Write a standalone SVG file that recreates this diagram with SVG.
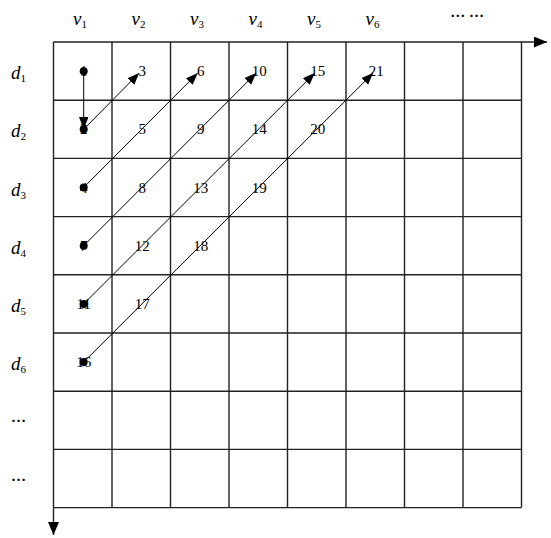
<svg xmlns="http://www.w3.org/2000/svg" width="551" height="538" viewBox="0 0 551 538">
<style>
.grid{stroke:#222;stroke-width:1.4;fill:none}
.conn{stroke:#000;stroke-width:1;fill:none}
.num{font-family:"Liberation Serif",serif;font-size:15px;fill:#000;text-anchor:middle}
.lab{font-family:"Liberation Serif",serif;font-style:italic;font-size:19px;fill:#000}
.sub{font-style:normal;font-size:11px}
.ell{font-family:"Liberation Serif",serif;font-size:15px;font-weight:bold;fill:#000;text-anchor:middle}
.dot{fill:#000}
</style>
<defs>
<marker id="ah" markerUnits="userSpaceOnUse" markerWidth="13" markerHeight="10" refX="12" refY="4.75" orient="auto"><path d="M0,0 L12,4.75 L0,9.5 z" fill="#000"/></marker>
<marker id="axh" markerUnits="userSpaceOnUse" markerWidth="14" markerHeight="12" refX="13" refY="5.5" orient="auto"><path d="M0,0 L13,5.5 L0,11 z" fill="#000"/></marker>
</defs>
<rect width="551" height="538" fill="#fff"/>
<g id="grid" class="grid">
<path d="M112,42V507.6M170.5,42V507.6M229,42V507.6M287.5,42V507.6M346,42V507.6M404.5,42V507.6M463,42V507.6M521.5,42V507.6"/>
<path d="M53.5,100.2H521.5M53.5,158.4H521.5M53.5,216.6H521.5M53.5,274.8H521.5M53.5,333H521.5M53.5,391.2H521.5M53.5,449.4H521.5M53.5,507.6H521.5"/>
</g>
<g id="axes" class="grid">
<path d="M53.5,42H547" marker-end="url(#axh)"/>
<path d="M53.5,42V535" marker-end="url(#axh)"/>
</g>
<g id="col-labels">
<text class="lab" x="73" y="25">v<tspan class="sub" dy="3">1</tspan></text>
<text class="lab" x="131.5" y="25">v<tspan class="sub" dy="3">2</tspan></text>
<text class="lab" x="190" y="25">v<tspan class="sub" dy="3">3</tspan></text>
<text class="lab" x="248.5" y="25">v<tspan class="sub" dy="3">4</tspan></text>
<text class="lab" x="307" y="25">v<tspan class="sub" dy="3">5</tspan></text>
<text class="lab" x="365.5" y="25">v<tspan class="sub" dy="3">6</tspan></text>
<text class="ell" x="467" y="17">… …</text>
</g>
<g id="row-labels">
<text class="lab" x="11" y="79">d<tspan class="sub" dy="3">1</tspan></text>
<text class="lab" x="11" y="137.3">d<tspan class="sub" dy="3">2</tspan></text>
<text class="lab" x="11" y="195.5">d<tspan class="sub" dy="3">3</tspan></text>
<text class="lab" x="11" y="253.7">d<tspan class="sub" dy="3">4</tspan></text>
<text class="lab" x="11" y="311.9">d<tspan class="sub" dy="3">5</tspan></text>
<text class="lab" x="11" y="370.1">d<tspan class="sub" dy="3">6</tspan></text>
<text class="ell" x="18.5" y="422">…</text>
<text class="ell" x="18.5" y="481">…</text>
</g>
<g id="numbers">
<g id="row1"><text class="num" x="83.7" y="76.1">1</text><text class="num" x="142.3" y="76.1">3</text><text class="num" x="200.8" y="76.1">6</text><text class="num" x="259.3" y="76.1">10</text><text class="num" x="317.8" y="76.1">15</text><text class="num" x="376.3" y="76.1">21</text></g>
<g id="row2"><text class="num" x="83.7" y="134.3">2</text><text class="num" x="142.3" y="134.3">5</text><text class="num" x="200.8" y="134.3">9</text><text class="num" x="259.3" y="134.3">14</text><text class="num" x="317.8" y="134.3">20</text></g>
<g id="row3"><text class="num" x="83.7" y="192.5">4</text><text class="num" x="142.3" y="192.5">8</text><text class="num" x="200.8" y="192.5">13</text><text class="num" x="259.3" y="192.5">19</text></g>
<g id="row4"><text class="num" x="83.7" y="250.7">7</text><text class="num" x="142.3" y="250.7">12</text><text class="num" x="200.8" y="250.7">18</text></g>
<g id="row5"><text class="num" x="83.7" y="308.9">11</text><text class="num" x="142.3" y="308.9">17</text></g>
<g id="row6"><text class="num" x="83.7" y="367.1">16</text></g>
</g>
<g id="connectors" class="conn">
<path d="M83.7,71.1V129" marker-end="url(#ah)"/>
<path d="M83.7,129.3L139.2,73" marker-end="url(#ah)"/>
<path d="M83.7,187.5L197.8,73" marker-end="url(#ah)"/>
<path d="M83.7,245.7L256.2,73" marker-end="url(#ah)"/>
<path d="M83.7,303.9L314.8,73" marker-end="url(#ah)"/>
<path d="M83.7,362.1L373.2,73" marker-end="url(#ah)"/>
</g>
<g id="dots" class="dot">
<circle cx="83.7" cy="71.3" r="4"/>
<circle cx="83.7" cy="129.3" r="4"/>
<circle cx="83.7" cy="187.5" r="4"/>
<circle cx="83.7" cy="245.7" r="4"/>
<circle cx="83.7" cy="303.9" r="4"/>
<circle cx="83.7" cy="362.1" r="4"/>
</g>
</svg>
